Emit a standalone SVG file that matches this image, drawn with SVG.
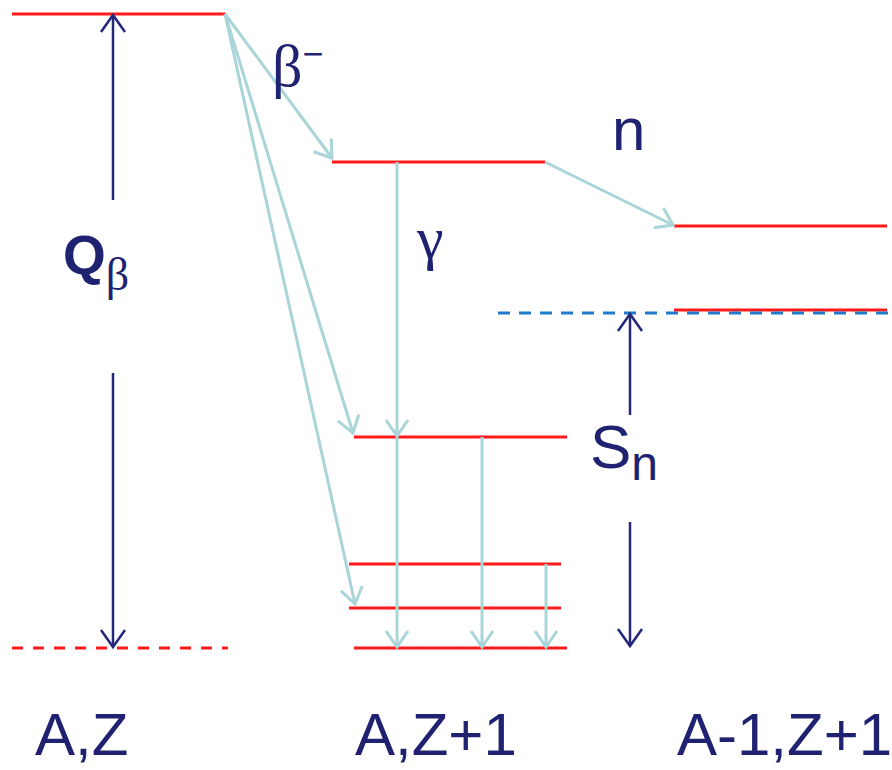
<svg xmlns="http://www.w3.org/2000/svg" width="892" height="770" viewBox="0 0 892 770">
<style>
.lvl{stroke:#ff1a1a;stroke-width:3;fill:none}
.dash{stroke:#ff1a1a;stroke-width:3;stroke-dasharray:11 10;fill:none}
.sep{stroke:#1f7bcc;stroke-width:3;stroke-dasharray:12 9;fill:none}
.tr{stroke:#a9d5d9;stroke-width:3;fill:none;marker-end:url(#ac)}
.nv{stroke:#25287a;stroke-width:2.5;fill:none}
.t{font-family:"Liberation Sans",Arial,sans-serif;fill:#1f2270}
.g{font-family:"Liberation Serif","Times New Roman",serif;fill:#1f2270}
</style>
<defs>
<marker id="ac" markerUnits="userSpaceOnUse" markerWidth="40" markerHeight="40" refX="20" refY="20" orient="auto" overflow="visible">
<path d="M4,9 L20,20 L4,31" fill="none" stroke="#a9d5d9" stroke-width="3"/>
</marker>
<marker id="an" markerUnits="userSpaceOnUse" markerWidth="40" markerHeight="40" refX="20" refY="20" orient="auto" overflow="visible">
<path d="M3,8 L20,20 L3,32" fill="none" stroke="#25287a" stroke-width="2.5"/>
</marker>
</defs>
<rect width="892" height="770" fill="#fff"/>
<g id="parent">
<line class="lvl" x1="12" y1="14" x2="225" y2="14"/>
<line class="dash" x1="12" y1="648" x2="228" y2="648"/>
<text class="t" x="35" y="755" font-size="60">A,Z</text>
</g>
<g id="daughter">
<line class="lvl" x1="332" y1="162" x2="545" y2="162"/>
<line class="lvl" x1="354" y1="437" x2="567" y2="437"/>
<line class="lvl" x1="349" y1="564" x2="561" y2="564"/>
<line class="lvl" x1="349" y1="608" x2="561" y2="608"/>
<line class="lvl" x1="354" y1="648" x2="567" y2="648"/>
<text class="t" x="355" y="755" font-size="60">A,Z+1</text>
</g>
<g id="neutron-daughter">
<line class="lvl" x1="674" y1="226" x2="887" y2="226"/>
<line class="lvl" x1="674" y1="310" x2="887" y2="310"/>
<line class="sep" x1="498" y1="313" x2="892" y2="313"/>
<text class="t" x="677" y="755" font-size="60">A-1,Z+1</text>
</g>
<g id="connectors">
<line class="tr" x1="225" y1="14" x2="332" y2="158"/>
<line class="tr" x1="225" y1="14" x2="353" y2="433"/>
<line class="tr" x1="225" y1="14" x2="355" y2="604"/>
<line class="tr" x1="545" y1="162" x2="673" y2="225"/>
<line class="tr" x1="397" y1="162" x2="397" y2="436"/>
<line class="tr" x1="397" y1="437" x2="397" y2="647"/>
<line class="tr" x1="482" y1="437" x2="482" y2="647"/>
<line class="tr" x1="546" y1="564" x2="546" y2="647"/>
<line class="nv" x1="113" y1="200" x2="113" y2="15" marker-end="url(#an)"/>
<line class="nv" x1="113" y1="373" x2="113" y2="647" marker-end="url(#an)"/>
<line class="nv" x1="630" y1="415" x2="630" y2="314" marker-end="url(#an)"/>
<line class="nv" x1="630" y1="522" x2="630" y2="646" marker-end="url(#an)"/>
</g>
<g id="labels">
<text class="g" x="272" y="86" font-size="60">β<tspan font-size="36" dy="-20" font-family="Liberation Sans,sans-serif">−</tspan></text>
<text class="t" x="612" y="150" font-size="60">n</text>
<text class="g" x="417" y="258" font-size="60">γ</text>
<text class="t" x="63" y="274" font-size="55" font-weight="bold">Q<tspan class="g" font-size="46" font-weight="normal" dy="16">β</tspan></text>
<text class="t" x="590" y="468" font-size="62">S<tspan font-size="48" dy="12">n</tspan></text>
</g>
</svg>
